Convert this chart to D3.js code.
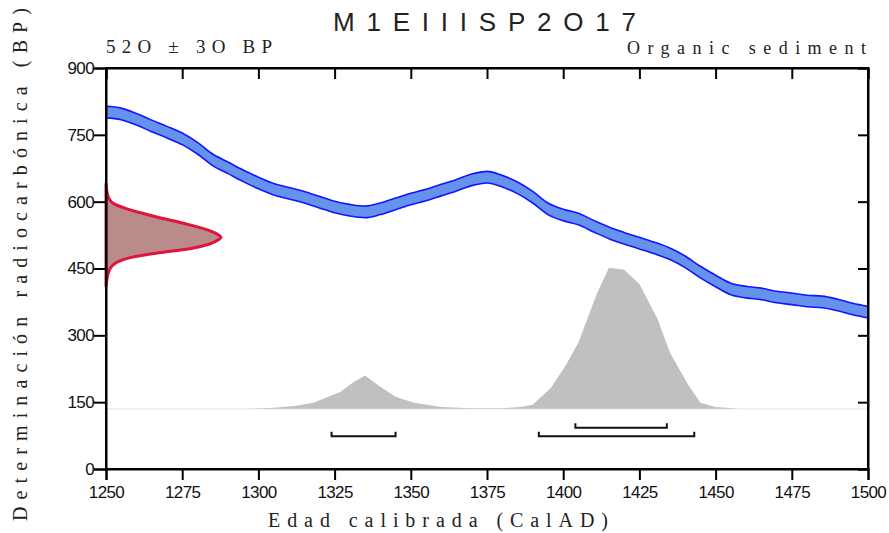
<!DOCTYPE html>
<html><head><meta charset="utf-8">
<script src="https://cdn.jsdelivr.net/npm/d3@7"></script>
<style>
html,body{margin:0;padding:0;background:#fff;}
svg{display:block;}
</style></head>
<body>
<svg id="chart" width="889" height="533"></svg>
<script>
// ---- data ----
const title = "M1EIIISP2O17";
const dateLabel = "52O ± 3O BP";
const materialLabel = "Organic sediment";
const xLabel = "Edad calibrada (CalAD)";
const yLabel = "Determinación radiocarbónica (BP)";

const xTicks = [1250,1275,1300,1325,1350,1375,1400,1425,1450,1475,1500];
const yTicks = [0,150,300,450,600,750,900];

// calibration curve (centre, BP) every 5 years
const calYears = [1250,1255,1260,1265,1270,1275,1280,1285,1290,1295,1300,1305,1310,1315,1320,1325,1330,1335,1340,1345,1350,1355,1360,1365,1370,1375,1380,1385,1390,1395,1400,1405,1410,1415,1420,1425,1430,1435,1440,1445,1450,1455,1460,1465,1470,1475,1480,1485,1490,1495,1500];
const calBP = [801,797,785,770,756,741,720,694,676,658,642,628,619,610,599,588,581,577,584,595,606,615,626,637,649,655,646,631,610,584,570,561,545,530,518,507,496,483,465,442,422,404,397,393,386,382,377,375,368,359,352];
const calSigma = 13;

// measured radiocarbon date density (BP vs relative density)
const dateBP =  [640,620,605,595,585,575,565,555,545,535,525,520,515,505,495,485,475,465,455,440,420,410];
const dateRel = [0,0.01,0.03,0.07,0.17,0.30,0.45,0.62,0.77,0.90,0.98,1.0,0.98,0.90,0.74,0.45,0.22,0.10,0.05,0.02,0.005,0];

// calibrated probability distribution (relative)
const probYears = [1295,1305,1312,1318,1327,1331,1335,1340,1345,1351,1360,1370,1380,1386,1390,1396,1401,1405,1411,1415,1420,1425,1431,1435,1441,1445,1450,1458];
const probRel =   [0,0.007,0.021,0.043,0.121,0.186,0.236,0.157,0.086,0.043,0.014,0.004,0.004,0.014,0.029,0.15,0.314,0.471,0.814,1.0,0.986,0.886,0.636,0.4,0.171,0.043,0.014,0];
const probBaseBP = 135;

// highest probability ranges
const range1s = [[1404,1434]];
const range2s = [[1324,1345],[1392,1443]];

// ---- layout ----
const L = 106, R = 868, T = 68, B = 469;
const svg = d3.select("#chart");

const x = d3.scaleLinear().domain([1250,1500]).range([L,R]);
const y = d3.scaleLinear().domain([0,900]).range([B,T]);
const dx = d3.scaleLinear().domain([0,1]).range([L, L+115]);
const baseY = y(probBaseBP);
const py = d3.scaleLinear().domain([0,1]).range([baseY, baseY-141]);

// faint baseline of distribution
svg.append("line").attr("x1",L).attr("x2",R).attr("y1",baseY).attr("y2",baseY)
  .attr("stroke","#e6e6e6").attr("stroke-width",1);

// probability distribution
const probData = probYears.map((d,i)=>({yr:d,p:probRel[i]}));
svg.append("path").datum(probData)
  .attr("d", d3.area().x(d=>x(d.yr)).y0(baseY).y1(d=>py(d.p)))
  .attr("fill","#c0c0c0");

// calibration curve band
const calData = calYears.map((d,i)=>({yr:d,bp:calBP[i]}));
svg.append("path").datum(calData)
  .attr("d", d3.area().curve(d3.curveMonotoneX).x(d=>x(d.yr))
     .y0(d=>y(d.bp-calSigma)).y1(d=>y(d.bp+calSigma)))
  .attr("fill","#6492ec").attr("stroke","#1414ff").attr("stroke-width",1.6)
  .attr("stroke-linejoin","round");

// measured date density
const dateData = dateBP.map((d,i)=>({bp:d,r:dateRel[i]}));
svg.append("path").datum(dateData)
  .attr("d", d3.area().curve(d3.curveMonotoneY).y(d=>y(d.bp)).x0(dx(0)).x1(d=>dx(d.r)))
  .attr("fill","#b98b8b").attr("stroke","#e0143c").attr("stroke-width",3)
  .attr("stroke-linejoin","round");

// range bars
function drawRanges(ranges, yy){
  ranges.forEach(r=>{
    const p = d3.path();
    p.moveTo(x(r[0]), yy-4.5); p.lineTo(x(r[0]), yy); p.lineTo(x(r[1]), yy); p.lineTo(x(r[1]), yy-4.5);
    svg.append("path").attr("d",p.toString()).attr("fill","none")
      .attr("stroke","#111").attr("stroke-width",2);
  });
}
drawRanges(range1s, baseY+19);
drawRanges(range2s, baseY+27.5);

// axes
const tickFont = "'Liberation Sans', Arial, sans-serif";
const gB = svg.append("g").attr("transform",`translate(0,${B})`)
  .call(d3.axisBottom(x).tickValues(xTicks).tickSize(11).tickPadding(5).tickFormat(d3.format("d")));
const gT = svg.append("g").attr("transform",`translate(0,${T})`)
  .call(d3.axisBottom(x).tickValues(xTicks).tickSize(11).tickFormat(""));
const gL = svg.append("g").attr("transform",`translate(${L},0)`)
  .call(d3.axisLeft(y).tickValues(yTicks).tickSize(12).tickPadding(0).tickFormat(d3.format("d")));
const gR = svg.append("g").attr("transform",`translate(${R},0)`)
  .call(d3.axisLeft(y).tickValues(yTicks).tickSize(10).tickFormat(""));
[gB,gT,gL,gR].forEach(g=>{
  g.select(".domain").attr("stroke","#000").attr("stroke-width",2);
  g.selectAll(".tick line").attr("stroke","#000").attr("stroke-width",2);
  g.selectAll("text").attr("font-family",tickFont).attr("font-size",17)
    .attr("fill","#111").attr("letter-spacing","-0.6px");
});
gB.selectAll(".tick text").attr("dy","0.78em");
svg.append("rect").attr("x",L).attr("y",T).attr("width",R-L).attr("height",B-T)
  .attr("fill","none").attr("stroke","#000").attr("stroke-width",2);

// texts
svg.append("text").text(title).attr("x",333).attr("y",31)
  .attr("font-family",tickFont).attr("font-size",26).attr("fill","#222")
  .attr("textLength",303).attr("lengthAdjust","spacing");
const serif = "'Liberation Serif', 'Times New Roman', serif";
svg.append("text").text(dateLabel).attr("x",L).attr("y",53)
  .attr("font-family",serif).attr("font-size",19).attr("fill","#222")
  .attr("textLength",166).attr("lengthAdjust","spacing");
svg.append("text").text(materialLabel).attr("x",627).attr("y",54)
  .attr("font-family",serif).attr("font-size",18).attr("fill","#222")
  .attr("textLength",239).attr("lengthAdjust","spacing");
svg.append("text").text(xLabel).attr("x",268).attr("y",527)
  .attr("font-family",serif).attr("font-size",20).attr("fill","#222")
  .attr("textLength",340).attr("lengthAdjust","spacing");
svg.append("text").text(yLabel)
  .attr("transform","translate(27,521) rotate(-90)")
  .attr("font-family",serif).attr("font-size",20).attr("fill","#222")
  .attr("textLength",513).attr("lengthAdjust","spacing");
</script>
</body></html>
